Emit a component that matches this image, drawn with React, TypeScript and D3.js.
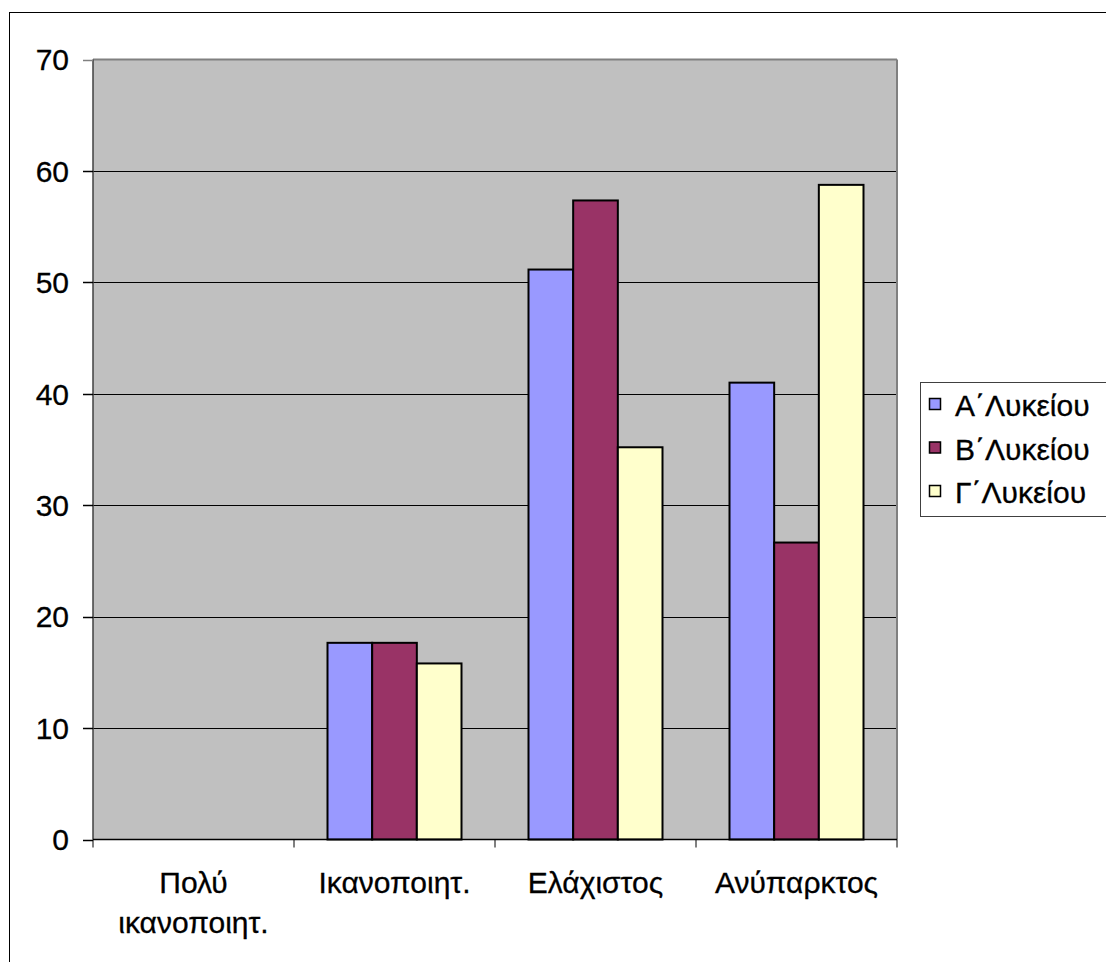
import React from "react";
import * as d3 from "d3";

const categories: string[][] = [["Πολύ", "ικανοποιητ."], ["Ικανοποιητ."], ["Ελάχιστος"], ["Ανύπαρκτος"]];
const seriesNames = ["Α΄Λυκείου", "Β΄Λυκείου", "Γ΄Λυκείου"];
const seriesA = [0, 17.65, 51.15, 41.0];
const seriesB = [0, 17.65, 57.35, 26.65];
const seriesC = [0, 15.8, 35.2, 58.75];
const seriesColors = ["#9999FF", "#993366", "#FFFFCC"];
const yTicks = [0, 10, 20, 30, 40, 50, 60, 70];

const FONT = "'Liberation Sans', Arial, sans-serif";

export default function App() {
  const W = 1106, H = 962;
  const left = 93, right = 897, top = 59.5, bottom = 839.5;
  const y = d3.scaleLinear().domain([0, 70]).range([bottom, top]);
  const x = d3.scaleBand<number>().domain(d3.range(categories.length)).range([left, right]).padding(0);
  const bw = x.bandwidth();
  const barW = bw / 4.5;
  const gap = barW * 0.75;
  const series = [seriesA, seriesB, seriesC];
  const fs = 30;

  return (
    <div style={{ position: "absolute", left: 0, top: 0 }}>
      <svg width={W} height={H} style={{ display: "block", background: "#fff" }} fontFamily={FONT}>
        <rect x={9.5} y={12.5} width={1110} height={960} fill="#fff" stroke="#000" strokeWidth={1} />
        <rect x={left} y={top} width={right - left} height={bottom - top} fill="#C0C0C0" />
        {yTicks.filter(t => t > 0 && t < 70).map(t => (
          <line key={"g" + t} x1={left} x2={right} y1={Math.round(y(t)) + 0.5} y2={Math.round(y(t)) + 0.5} stroke="#000" strokeWidth={1} />
        ))}
        <line x1={left} x2={right} y1={top} y2={top} stroke="#808080" strokeWidth={2} />
        <line x1={right} x2={right} y1={top} y2={bottom} stroke="#808080" strokeWidth={2} />
        {series.map((vals, si) =>
          vals.map((v, ci) => v > 0 ? (
            <rect key={si + "-" + ci}
              x={(x(ci) as number) + gap + si * barW}
              y={y(v)}
              width={barW}
              height={bottom - y(v)}
              fill={seriesColors[si]} stroke="#000" strokeWidth={2} />
          ) : null)
        )}
        <line x1={left} x2={left} y1={top} y2={bottom} stroke="#404040" strokeWidth={1.5} />
        <line x1={left} x2={right} y1={bottom} y2={bottom} stroke="#000" strokeWidth={1.5} />
        {yTicks.map(t => (
          <g key={"t" + t}>
            <line x1={83} x2={left} y1={Math.round(y(t)) + 0.5} y2={Math.round(y(t)) + 0.5} stroke={t === 70 ? "#808080" : "#000"} strokeWidth={1.5} />
            <text x={69} y={y(t)} dy="0.36em" textAnchor="end" fontSize={fs} fill="#000" stroke="#000" strokeWidth={0.3}>{t}</text>
          </g>
        ))}
        {d3.range(categories.length + 1).map(i => (
          <line key={"xt" + i} x1={left + i * bw} x2={left + i * bw} y1={bottom} y2={bottom + 8} stroke="#000" strokeWidth={1} />
        ))}
        {categories.map((lines, ci) => (
          <text key={"c" + ci} x={(x(ci) as number) + bw / 2} y={893} textAnchor="middle" fontSize={fs} fill="#000" stroke="#000" strokeWidth={0.3}>
            {lines.map((ln, li) => (
              <tspan key={li} x={(x(ci) as number) + bw / 2} dy={li === 0 ? 0 : 40}>{ln}</tspan>
            ))}
          </text>
        ))}
        <rect x={920.5} y={382.5} width={200} height={134} fill="#fff" stroke="#404040" strokeWidth={1} />
        {seriesNames.map((name, i) => (
          <g key={"l" + i}>
            <rect x={929.5} y={398.5 + i * 43.5} width={11} height={11} fill={seriesColors[i]} stroke="#000" strokeWidth={1.5} />
            <text x={955} y={416 + i * 43.5} fontSize={fs} fill="#000" stroke="#000" strokeWidth={0.3}>{name}</text>
          </g>
        ))}
      </svg>
    </div>
  );
}
